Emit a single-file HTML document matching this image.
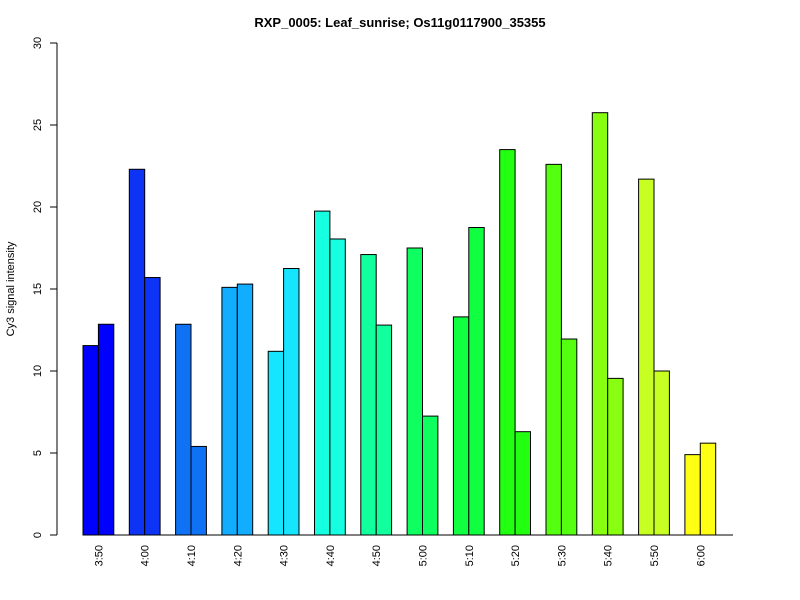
<!DOCTYPE html>
<html><head><meta charset="utf-8"><style>body{margin:0;background:#fff}svg{display:block;font-family:"Liberation Sans",Arial,sans-serif}</style></head>
<body>
<svg id="c" width="800" height="600">
<text x="400" y="27" text-anchor="middle" font-weight="bold" font-size="13">RXP_0005: Leaf_sunrise; Os11g0117900_35355</text>
<text transform="translate(14,289) rotate(-90)" text-anchor="middle" font-size="11">Cy3 signal intensity</text>
<g id="bars"></g><g id="axes"></g>
</svg>
<script>
const categories=["3:50","4:00","4:10","4:20","4:30","4:40","4:50","5:00","5:10","5:20","5:30","5:40","5:50","6:00"];
const series1=[11.55,22.3,12.85,15.1,11.2,19.75,17.1,17.5,13.3,23.5,22.6,25.75,21.7,4.9];
const series2=[12.85,15.7,5.4,15.3,16.25,18.05,12.8,7.25,18.75,6.3,11.95,9.55,10.0,5.6];
const yTicks=[0,5,10,15,20,25,30];
const colors=["#0000FF","#0D33F5","#0F72F5","#12ADFF","#15E5FF","#15FFE0","#12FF9E","#10FF60","#10FF40","#22FF10","#55FF10","#88FF10","#C8FF22","#FFFF15"];
const ns="http://www.w3.org/2000/svg";
const y0=535,pxU=16.4;
const Y=v=>y0-v*pxU;
const X=i=>83+i*46.3;
const bw=15.4;
const bars=document.getElementById('bars'),axes=document.getElementById('axes');
function mk(t,a,p){const e=document.createElementNS(ns,t);for(const k in a)e.setAttribute(k,a[k]);p.appendChild(e);return e;}
categories.forEach((c,i)=>{
 [series1[i],series2[i]].forEach((v,j)=>{
  const r=mk('rect',{x:X(i)+j*bw,y:Y(v),width:bw,height:v*pxU,fill:colors[i],stroke:'#000','stroke-width':1},bars);
  
  
 });
 const t=mk('text',{transform:`translate(${X(i)+bw+4},545) rotate(-90)`,'text-anchor':'end','font-size':11},axes);
 t.textContent=c;
 
 
});
const bl=mk('line',{x1:83,x2:733,y1:y0,y2:y0,stroke:'#000'},axes);


const ya=mk('line',{x1:57,x2:57,y1:Y(0),y2:Y(30),stroke:'#000'},axes);


yTicks.forEach(v=>{
 const l=mk('line',{x1:50,x2:57,y1:Y(v),y2:Y(v),stroke:'#000'},axes);
 
 
 const t=mk('text',{transform:`translate(41,${Y(v)}) rotate(-90)`,'text-anchor':'middle','font-size':11},axes);
 t.textContent=v;
 
 
});
</script>
</body></html>
